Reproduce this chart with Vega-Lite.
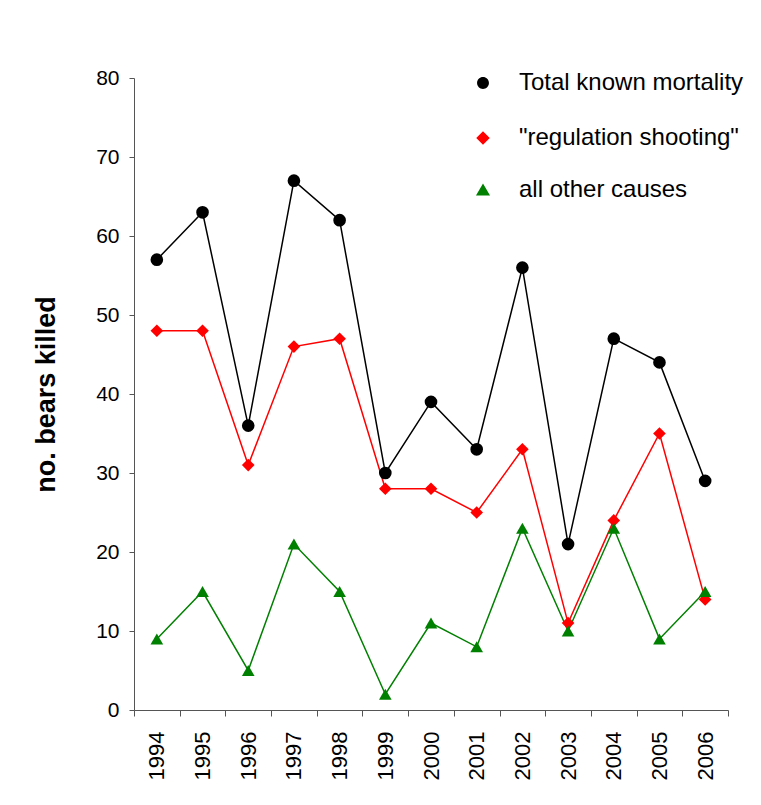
{
  "$schema": "https://vega.github.io/schema/vega-lite/v6.json",
  "width": 594,
  "height": 632,
  "autosize": "none",
  "padding": {"left": 134, "top": 78, "right": 33, "bottom": 95},
  "background": "white",
  "config": {"font": "Liberation Sans", "view": {"stroke": null}},
  "data": {
    "values": [
      {"year": "1994", "series": "Total known mortality", "killed": 57},
      {"year": "1995", "series": "Total known mortality", "killed": 63},
      {"year": "1996", "series": "Total known mortality", "killed": 36},
      {"year": "1997", "series": "Total known mortality", "killed": 67},
      {"year": "1998", "series": "Total known mortality", "killed": 62},
      {"year": "1999", "series": "Total known mortality", "killed": 30},
      {"year": "2000", "series": "Total known mortality", "killed": 39},
      {"year": "2001", "series": "Total known mortality", "killed": 33},
      {"year": "2002", "series": "Total known mortality", "killed": 56},
      {"year": "2003", "series": "Total known mortality", "killed": 21},
      {"year": "2004", "series": "Total known mortality", "killed": 47},
      {"year": "2005", "series": "Total known mortality", "killed": 44},
      {"year": "2006", "series": "Total known mortality", "killed": 29},
      {"year": "1994", "series": "\"regulation shooting\"", "killed": 48},
      {"year": "1995", "series": "\"regulation shooting\"", "killed": 48},
      {"year": "1996", "series": "\"regulation shooting\"", "killed": 31},
      {"year": "1997", "series": "\"regulation shooting\"", "killed": 46},
      {"year": "1998", "series": "\"regulation shooting\"", "killed": 47},
      {"year": "1999", "series": "\"regulation shooting\"", "killed": 28},
      {"year": "2000", "series": "\"regulation shooting\"", "killed": 28},
      {"year": "2001", "series": "\"regulation shooting\"", "killed": 25},
      {"year": "2002", "series": "\"regulation shooting\"", "killed": 33},
      {"year": "2003", "series": "\"regulation shooting\"", "killed": 11},
      {"year": "2004", "series": "\"regulation shooting\"", "killed": 24},
      {"year": "2005", "series": "\"regulation shooting\"", "killed": 35},
      {"year": "2006", "series": "\"regulation shooting\"", "killed": 14},
      {"year": "1994", "series": "all other causes", "killed": 9},
      {"year": "1995", "series": "all other causes", "killed": 15},
      {"year": "1996", "series": "all other causes", "killed": 5},
      {"year": "1997", "series": "all other causes", "killed": 21},
      {"year": "1998", "series": "all other causes", "killed": 15},
      {"year": "1999", "series": "all other causes", "killed": 2},
      {"year": "2000", "series": "all other causes", "killed": 11},
      {"year": "2001", "series": "all other causes", "killed": 8},
      {"year": "2002", "series": "all other causes", "killed": 23},
      {"year": "2003", "series": "all other causes", "killed": 10},
      {"year": "2004", "series": "all other causes", "killed": 23},
      {"year": "2005", "series": "all other causes", "killed": 9},
      {"year": "2006", "series": "all other causes", "killed": 15}
    ]
  },
  "encoding": {
    "x": {
      "field": "year",
      "type": "ordinal",
      "scale": {"paddingInner": 0, "paddingOuter": 0},
      "axis": {
        "title": null,
        "labelAngle": -90,
        "labelAlign": "right",
        "labelBaseline": "middle",
        "labelFontSize": 22,
        "labelColor": "black",
        "tickBand": "extent",
        "tickSize": 6,
        "tickColor": "#555555",
        "domainColor": "#555555",
        "labelPadding": 15,
        "grid": false
      }
    },
    "y": {
      "field": "killed",
      "type": "quantitative",
      "scale": {"domain": [0, 80], "nice": false},
      "axis": {
        "title": "no. bears killed",
        "titleFontSize": 27,
        "titleFontWeight": "bold",
        "titleColor": "black",
        "titlePadding": 35,
        "values": [0, 10, 20, 30, 40, 50, 60, 70, 80],
        "labelFontSize": 21,
        "labelColor": "black",
        "tickSize": 5,
        "tickColor": "#555555",
        "domainColor": "#555555",
        "labelPadding": 10,
        "grid": false
      }
    }
  },
  "layer": [
    {
      "mark": {"type": "line", "strokeWidth": 1.5},
      "encoding": {
        "color": {
          "field": "series",
          "type": "nominal",
          "scale": {
            "domain": ["Total known mortality", "\"regulation shooting\"", "all other causes"],
            "range": ["#000000", "#FF0000", "#008000"]
          },
          "legend": null
        }
      }
    },
    {
      "mark": {"type": "point", "filled": true, "size": 160, "opacity": 1},
      "encoding": {
        "color": {"field": "series", "type": "nominal", "legend": null},
        "shape": {
          "field": "series",
          "type": "nominal",
          "scale": {
            "domain": ["Total known mortality", "\"regulation shooting\"", "all other causes"],
            "range": ["circle", "diamond", "triangle-up"]
          },
          "legend": null
        }
      }
    },
    {
      "transform": [{"filter": "datum.series === 'Total known mortality'"}],
      "mark": {"type": "point", "filled": false, "fill": "#000000", "stroke": "#000000", "strokeWidth": 1.5, "opacity": 0, "size": 10},
      "encoding": {
        "shape": {
          "field": "series",
          "type": "nominal",
          "scale": {
            "domain": ["Total known mortality"],
            "range": ["M-1,0L1,0M0.22,0A0.22,0.22,0,1,1,-0.22,0A0.22,0.22,0,1,1,0.22,0Z"]
          },
          "legend": {
            "title": null,
            "orient": "none",
            "legendX": 321,
            "legendY": -23,
            "padding": 0,
            "labelOffset": 8,
            "labelFontSize": 24,
            "labelLimit": 0,
            "labelColor": "black",
            "symbolSize": 2916,
            "symbolOpacity": 1,
            "symbolFillColor": "#000000",
            "symbolStrokeColor": "#000000",
            "symbolStrokeWidth": 1.5
          }
        }
      }
    },
    {
      "transform": [{"filter": "datum.series === '\"regulation shooting\"'"}],
      "mark": {"type": "point", "filled": false, "fill": "#FF0000", "stroke": "#FF0000", "strokeWidth": 1.5, "opacity": 0, "size": 10},
      "encoding": {
        "shape": {
          "field": "series",
          "type": "nominal",
          "scale": {
            "domain": ["\"regulation shooting\""],
            "range": ["M-1,0L1,0M0,-0.25L0.25,0L0,0.25L-0.25,0Z"]
          },
          "legend": {
            "title": null,
            "orient": "none",
            "legendX": 321,
            "legendY": 32,
            "padding": 0,
            "labelOffset": 8,
            "labelFontSize": 24,
            "labelLimit": 0,
            "labelColor": "black",
            "symbolSize": 2916,
            "symbolOpacity": 1,
            "symbolFillColor": "#FF0000",
            "symbolStrokeColor": "#FF0000",
            "symbolStrokeWidth": 1.5
          }
        }
      }
    },
    {
      "transform": [{"filter": "datum.series === 'all other causes'"}],
      "mark": {"type": "point", "filled": false, "fill": "#008000", "stroke": "#008000", "strokeWidth": 1.5, "opacity": 0, "size": 10},
      "encoding": {
        "shape": {
          "field": "series",
          "type": "nominal",
          "scale": {
            "domain": ["all other causes"],
            "range": ["M-1,0L1,0M0,-0.24L0.26,0.2L-0.26,0.2Z"]
          },
          "legend": {
            "title": null,
            "orient": "none",
            "legendX": 321,
            "legendY": 84,
            "padding": 0,
            "labelOffset": 8,
            "labelFontSize": 24,
            "labelLimit": 0,
            "labelColor": "black",
            "symbolSize": 2916,
            "symbolOpacity": 1,
            "symbolFillColor": "#008000",
            "symbolStrokeColor": "#008000",
            "symbolStrokeWidth": 1.5
          }
        }
      }
    }
  ],
  "resolve": {"scale": {"shape": "independent"}}
}
